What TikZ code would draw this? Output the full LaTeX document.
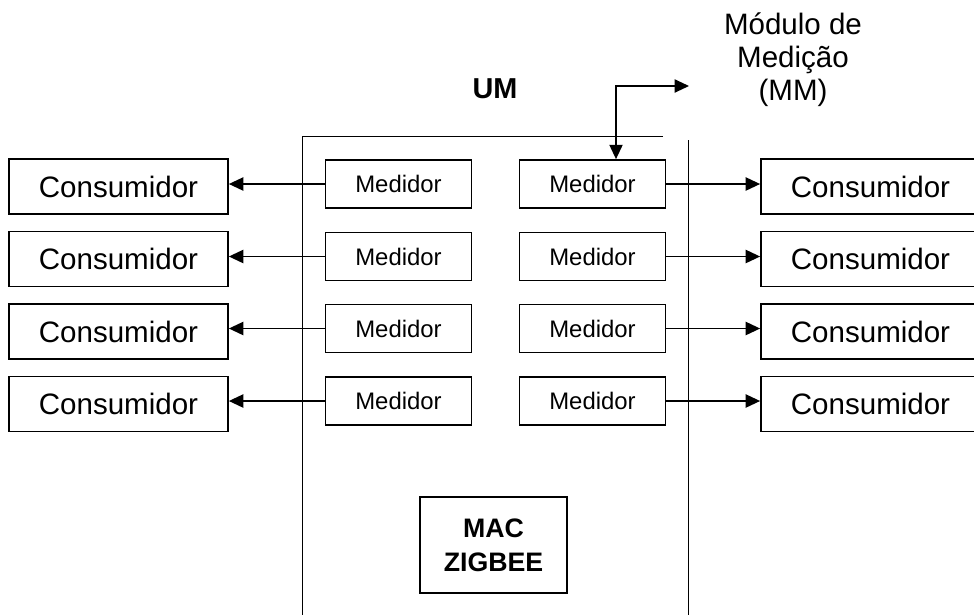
\documentclass[tikz,border=0pt]{standalone}
\usepackage{fontspec}
\setmainfont{Liberation Sans}
\usetikzlibrary{arrows.meta}

\begin{document}
\begin{tikzpicture}[
    x=0.025cm, y=-0.025cm,
    consbox/.style={draw, line width=1.2pt, minimum width=5.475cm, minimum height=1.375cm,
        inner sep=0pt, font=\fontsize{21}{25}\selectfont},
    medbox/.style={draw, line width=1.2pt, minimum width=3.65cm, minimum height=1.2cm,
        inner sep=0pt, font=\fontsize{17}{20}\selectfont},
    link/.style={line width=1.1pt},
    >={Triangle[length=0.36cm,width=0.33cm]}
]
\useasboundingbox (0,0) rectangle (974,614);

% UM frame
\draw[line width=0.7pt] (663,136) -- (302,136) -- (302,620);
\draw[line width=0.7pt] (688,140) -- (688,620);
\node[font=\fontsize{20.5}{24}\selectfont\bfseries] (um) at (495,89) {UM};

% Left side
\node[consbox] (cl1) at (118.5,186.5) {Consumidor};
\node[consbox] (cl2) at (118.5,259)   {Consumidor};
\node[consbox] (cl3) at (118.5,331.5) {Consumidor};
\node[consbox] (cl4) at (118.5,404)   {Consumidor};

\node[medbox] (ml1) at (398.5,184)   {Medidor};
\node[medbox] (ml2) at (398.5,256.5) {Medidor};
\node[medbox] (ml3) at (398.5,328.5) {Medidor};
\node[medbox] (ml4) at (398.5,401)   {Medidor};

\draw[link, ->] (ml1.west) -- (ml1.west -| cl1.east);
\draw[link, ->] (ml2.west) -- (ml2.west -| cl2.east);
\draw[link, ->] (ml3.west) -- (ml3.west -| cl3.east);
\draw[link, ->] (ml4.west) -- (ml4.west -| cl4.east);

% Right side
\node[medbox] (mr1) at (592.5,184)   {Medidor};
\node[medbox] (mr2) at (592.5,256.5) {Medidor};
\node[medbox] (mr3) at (592.5,328.5) {Medidor};
\node[medbox] (mr4) at (592.5,401)   {Medidor};

\node[consbox] (cr1) at (870.5,186.5) {Consumidor};
\node[consbox] (cr2) at (870.5,259)   {Consumidor};
\node[consbox] (cr3) at (870.5,331.5) {Consumidor};
\node[consbox] (cr4) at (870.5,404)   {Consumidor};

\draw[link, ->] (mr1.east) -- (mr1.east -| cr1.west);
\draw[link, ->] (mr2.east) -- (mr2.east -| cr2.west);
\draw[link, ->] (mr3.east) -- (mr3.east -| cr3.west);
\draw[link, ->] (mr4.east) -- (mr4.east -| cr4.west);

% MAC
\node[draw, line width=1.2pt, minimum width=3.675cm, minimum height=2.4cm, align=center,
    font=\fontsize{19}{24}\selectfont\bfseries] (mac) at (493.5,545) {MAC\\ZIGBEE};

% Measurement module
\node[align=center, font=\fontsize{21}{23.5}\selectfont] (mm) at (793,60) {Módulo de\\Medição\\(MM)};
\coordinate (mmend) at (689,86);
\draw[link, <->] (mmend) -| ([xshift=0.5875cm]mr1.north);
\end{tikzpicture}
\end{document}
